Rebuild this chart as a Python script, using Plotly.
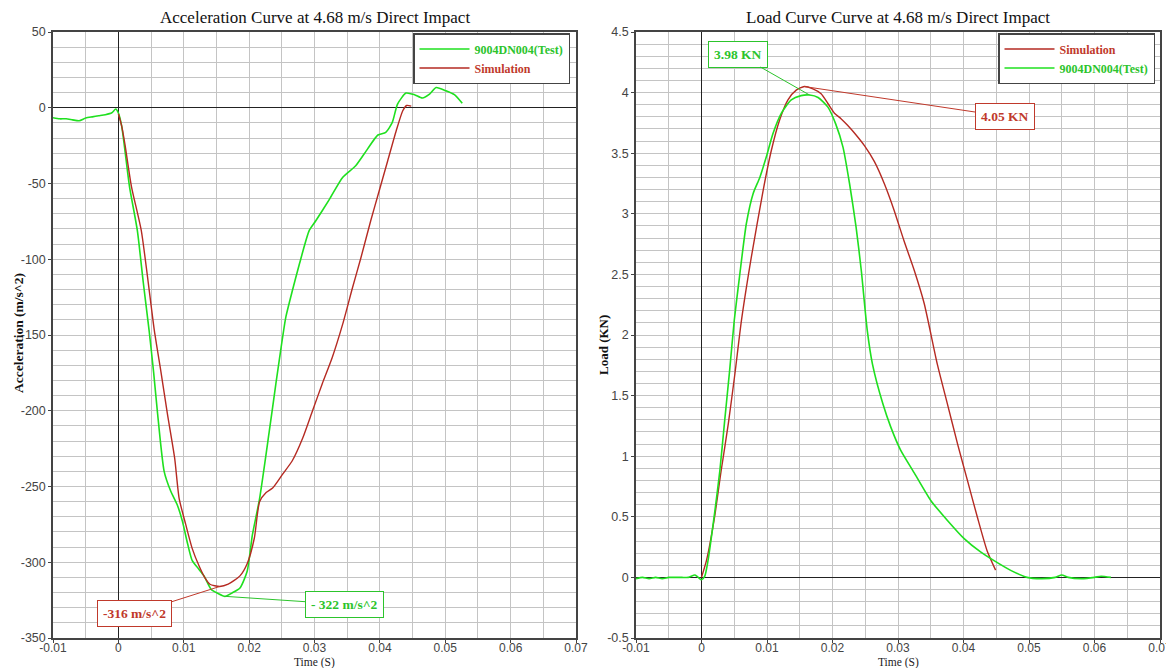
import numpy as np
import plotly.graph_objects as go

# ---------------- data ----------------
acc_test_t = [-0.010, -0.009, -0.008, -0.007, -0.006, -0.005, -0.004, -0.003, -0.002, -0.001,
              -0.0004, 0.0, 0.0005, 0.001, 0.0017, 0.0029, 0.0038, 0.0047, 0.0054, 0.006,
              0.007, 0.008, 0.009, 0.0098, 0.0106, 0.0113, 0.0122, 0.0131, 0.0142, 0.0152,
              0.0163, 0.0175, 0.0186, 0.0197, 0.0205, 0.0216, 0.0231, 0.0241, 0.0249, 0.0256,
              0.0266, 0.0277, 0.0292, 0.0302, 0.0323, 0.0343, 0.0363, 0.0381, 0.0397, 0.0409,
              0.0419, 0.0427, 0.044, 0.0453, 0.0465, 0.0476, 0.0486, 0.0501, 0.0514, 0.0526]
acc_test_v = [-6.6, -7.3, -7.3, -8.0, -8.6, -6.8, -6.0, -5.3, -4.6, -3.3,
              -0.8, -3.5, -12, -28, -52, -81, -115, -147, -175, -202,
              -240, -253, -262, -273, -288, -299, -304, -309, -318, -320.5,
              -322.5, -320, -317, -306, -282, -258, -213, -182, -158, -138.5,
              -121, -103, -81, -74.6, -60.3, -46, -38.3, -27.3, -18, -16.3,
              -9.7, 2.4, 9.7, 8.6, 6.4, 9, 13.4, 11.2, 8.6, 2.9]

acc_sim_t = [0.0, 0.0005, 0.001, 0.002, 0.0035, 0.0055, 0.0065, 0.0075, 0.0086, 0.0093,
             0.0103, 0.0113, 0.0124, 0.0132, 0.014, 0.0155, 0.0168, 0.0186, 0.0197, 0.0208,
             0.0216, 0.0226, 0.0236, 0.0251, 0.0266, 0.0282, 0.0297, 0.0312, 0.0327, 0.0343,
             0.0358, 0.0371, 0.0386, 0.0399, 0.0412, 0.0425, 0.0435, 0.0441, 0.0448]
acc_sim_v = [-4, -12, -24, -52, -81, -147, -174, -202, -231, -258,
             -275, -291, -303, -310, -314.5, -316, -314.5, -309, -301, -284,
             -260, -254, -251, -242, -233, -218, -200, -182, -165, -143,
             -119, -99, -74.6, -54.8, -35, -15.2, -2, 1.5, 1.1]

load_test_t = [-0.010, -0.009, -0.008, -0.007, -0.006, -0.005, -0.004, -0.003, -0.002, -0.001,
               -0.0005, 0.0, 0.0005, 0.001, 0.002, 0.0028, 0.00355, 0.0043, 0.005, 0.0058,
               0.00685, 0.0079, 0.0089, 0.0099, 0.0109, 0.0122, 0.0137, 0.0152, 0.0165, 0.0178,
               0.0193, 0.0205, 0.0216, 0.0226, 0.0236, 0.0244, 0.0253, 0.0261, 0.0277, 0.0289,
               0.0304, 0.0325, 0.035, 0.03755, 0.0401, 0.0426, 0.0446, 0.0472, 0.0497, 0.052,
               0.054, 0.055, 0.056, 0.058, 0.060, 0.061, 0.0625]
load_test_v = [-0.01, 0.0, -0.01, 0.0, -0.01, 0.0, 0.0, 0.0, 0.0, 0.02,
               0.0, -0.02, 0.01, 0.14, 0.53, 0.88, 1.30, 1.71, 2.12, 2.48,
               2.92, 3.17, 3.30, 3.47, 3.66, 3.83, 3.94, 3.975, 3.98, 3.96,
               3.88, 3.74, 3.55, 3.25, 2.89, 2.53, 2.04, 1.76, 1.43, 1.24,
               1.05, 0.86, 0.635, 0.47, 0.32, 0.21, 0.14, 0.058, 0.0, -0.01,
               0.0, 0.02, 0.0, -0.01, 0.0, 0.01, 0.0]

load_sim_t = [0.0, 0.00076, 0.002, 0.003, 0.0041, 0.0051, 0.0061, 0.0076, 0.0094, 0.01065,
              0.0119, 0.0132, 0.01446, 0.0157, 0.017, 0.01826, 0.0193, 0.0203, 0.0213, 0.0223,
              0.0236, 0.0249, 0.0264, 0.0279, 0.0294, 0.0309, 0.0325, 0.034, 0.036, 0.03755,
              0.0391, 0.0406, 0.0421, 0.0436, 0.0449]
load_sim_v = [0.0, 0.14, 0.50, 0.88, 1.27, 1.68, 2.12, 2.64, 3.19, 3.52,
              3.77, 3.94, 4.02, 4.05, 4.03, 3.99, 3.91, 3.83, 3.785, 3.73,
              3.65, 3.56, 3.43, 3.25, 3.03, 2.78, 2.53, 2.26, 1.76, 1.43,
              1.10, 0.80, 0.50, 0.22, 0.06]

time_ticks = [-0.01, 0, 0.01, 0.02, 0.03, 0.04, 0.05, 0.06, 0.07]
time_labels = ["-0.01", "0", "0.01", "0.02", "0.03", "0.04", "0.05", "0.06", "0.07"]
acc_ticks = [50, 0, -50, -100, -150, -200, -250, -300, -350]
acc_labels = ["50", "0", "-50", "-100", "-150", "-200", "-250", "-300", "-350"]
load_ticks = [4.5, 4, 3.5, 3, 2.5, 2, 1.5, 1, 0.5, 0, -0.5]
load_labels = ["4.5", "4", "3.5", "3", "2.5", "2", "1.5", "1", "0.5", "0", "-0.5"]

titles = ["Acceleration Curve at 4.68 m/s Direct Impact", "Load Curve Curve at 4.68 m/s Direct Impact"]
y_titles = ["Acceleration (m/s^2)", "Load (KN)"]
x_title = "Time (S)"
test_name = "9004DN004(Test)"
sim_name = "Simulation"
acc_notes = ["- 322 m/s^2", "-316 m/s^2"]
load_notes = ["3.98 KN", "4.05 KN"]

# ---------------- styles ----------------
# the page body has an 8px margin, so page pixel p maps to figure pixel p-8
OFF = 8
W, H = 1174 - OFF, 668 - OFF
GREEN = "#1fe01f"
GREEN_TXT = "#2cc42c"
RED = "#b52a22"
RED_TXT = "#c0392b"
SERIF = "Liberation Serif, Times New Roman, serif"
SANS = "Liberation Sans, Arial, sans-serif"
GRID = "#c4c4c4"


def fx(p):
    return (p - OFF) / W


def fy(p):
    return 1 - (p - OFF) / H


L_dom = [fx(53), fx(576)]
R_dom = [fx(636), fx(1160)]
Y_dom = [fy(638), fy(32)]

fig = go.Figure()


def colored(name, color):
    return f"<span style='color:{color}'><b>{name}</b></span>"


fig.add_trace(go.Scatter(x=acc_test_t, y=acc_test_v, mode="lines", name=colored(test_name, GREEN_TXT),
                         line=dict(color=GREEN, width=1.6, shape="spline", smoothing=0.6),
                         xaxis="x", yaxis="y", legend="legend"))
fig.add_trace(go.Scatter(x=acc_sim_t, y=acc_sim_v, mode="lines", name=colored(sim_name, RED_TXT),
                         line=dict(color=RED, width=1.4, shape="spline", smoothing=0.6),
                         xaxis="x", yaxis="y", legend="legend"))
fig.add_trace(go.Scatter(x=load_sim_t, y=load_sim_v, mode="lines", name=colored(sim_name, RED_TXT),
                         line=dict(color=RED, width=1.4, shape="spline", smoothing=0.6),
                         xaxis="x2", yaxis="y2", legend="legend2"))
fig.add_trace(go.Scatter(x=load_test_t, y=load_test_v, mode="lines", name=colored(test_name, GREEN_TXT),
                         line=dict(color=GREEN, width=1.6, shape="spline", smoothing=0.6),
                         xaxis="x2", yaxis="y2", legend="legend2"))


def xaxis(domain, anchor):
    return dict(domain=domain, anchor=anchor, range=[-0.01, 0.07],
                tickmode="array", tickvals=time_ticks, ticktext=time_labels,
                showgrid=True, gridcolor=GRID, gridwidth=1,
                minor=dict(tickmode="linear", tick0=-0.01, dtick=0.005, showgrid=True, gridcolor=GRID, gridwidth=1),
                zeroline=True, zerolinecolor="#222", zerolinewidth=1,
                showline=True, mirror=True, linecolor="#444", linewidth=1.5,
                ticks="outside", ticklen=3, tickcolor="#444", ticklabelstandoff=-5,
                tickfont=dict(family=SANS, size=12, color="#444"),
                automargin=False)


def yaxis(anchor, rng, vals, labels, minor_dt):
    return dict(domain=Y_dom, anchor=anchor, range=rng,
                tickmode="array", tickvals=vals, ticktext=labels,
                showgrid=True, gridcolor=GRID, gridwidth=1,
                minor=dict(tickmode="linear", tick0=0, dtick=minor_dt, showgrid=True, gridcolor=GRID, gridwidth=1),
                zeroline=True, zerolinecolor="#222", zerolinewidth=1,
                showline=True, mirror=True, linecolor="#444", linewidth=1.5,
                ticks="outside", ticklen=3, tickcolor="#444",
                tickfont=dict(family=SANS, size=12.5, color="#444"),
                automargin=False)


legend_common = dict(bgcolor="white", bordercolor="#444", borderwidth=1.5,
                     font=dict(family=SERIF, size=12), xanchor="right", yanchor="top",
                     tracegroupgap=0, itemwidth=50)

fig.update_layout(
    width=W, height=H,
    margin=dict(l=0, r=0, t=0, b=0),
    paper_bgcolor="white", plot_bgcolor="white",
    xaxis=xaxis(L_dom, "y"),
    yaxis=yaxis("x", [-350, 50], acc_ticks, acc_labels, 10),
    xaxis2=xaxis(R_dom, "y2"),
    yaxis2=yaxis("x2", [-0.5, 4.5], load_ticks, load_labels, 0.1),
    legend=dict(x=fx(570), y=fy(33), **legend_common),
    legend2=dict(x=fx(1155), y=fy(33), **legend_common),
)

ann = []
for dom, t in zip([L_dom, R_dom], titles):
    ann.append(dict(xref="paper", yref="paper", x=(dom[0] + dom[1]) / 2, y=fy(17),
                    text=t, showarrow=False, xanchor="center", yanchor="middle",
                    font=dict(family=SERIF, size=17, color="#111")))
    ann.append(dict(xref="paper", yref="paper", x=(dom[0] + dom[1]) / 2, y=fy(662),
                    text=x_title, showarrow=False, xanchor="center", yanchor="middle",
                    font=dict(family=SERIF, size=11.5, color="#222")))
ann.append(dict(xref="paper", yref="paper", x=fx(18), y=fy(333), text=f"<b>{y_titles[0]}</b>",
                textangle=-90, showarrow=False, xanchor="center", yanchor="middle",
                font=dict(family=SERIF, size=13.5, color="#111")))
ann.append(dict(xref="paper", yref="paper", x=fx(603), y=fy(345), text=f"<b>{y_titles[1]}</b>",
                textangle=-90, showarrow=False, xanchor="center", yanchor="middle",
                font=dict(family=SERIF, size=13, color="#111")))

gi = int(np.argmin(acc_test_v))
ri = int(np.argmin(acc_sim_v))
lgi = int(np.argmax(load_test_v))
lri = int(np.argmax(load_sim_v))


def note(xr, yr, x, y, text, color, ax, ay):
    return dict(xref=xr, yref=yr, x=x, y=y, text=f"<b>{text}</b>", showarrow=True,
                arrowhead=0, arrowwidth=1, arrowcolor=color, ax=ax, ay=ay, standoff=0,
                bgcolor="white", bordercolor=color, borderwidth=1, borderpad=5,
                font=dict(family=SERIF, size=13.5, color=color))


ann.append(note("x", "y", acc_test_t[gi], acc_test_v[gi], acc_notes[0], GREEN_TXT, 120, 8))
ann.append(note("x", "y", acc_sim_t[ri], acc_sim_v[ri], acc_notes[1], RED_TXT, -85, 27))
ann.append(note("x2", "y2", load_test_t[lgi], load_test_v[lgi], load_notes[0], GREEN_TXT, -72, -41))
ann.append(note("x2", "y2", load_sim_t[lri], load_sim_v[lri], load_notes[1], RED_TXT, 201, 30))

fig.update_layout(annotations=ann)

fig.write_html("out.html")
